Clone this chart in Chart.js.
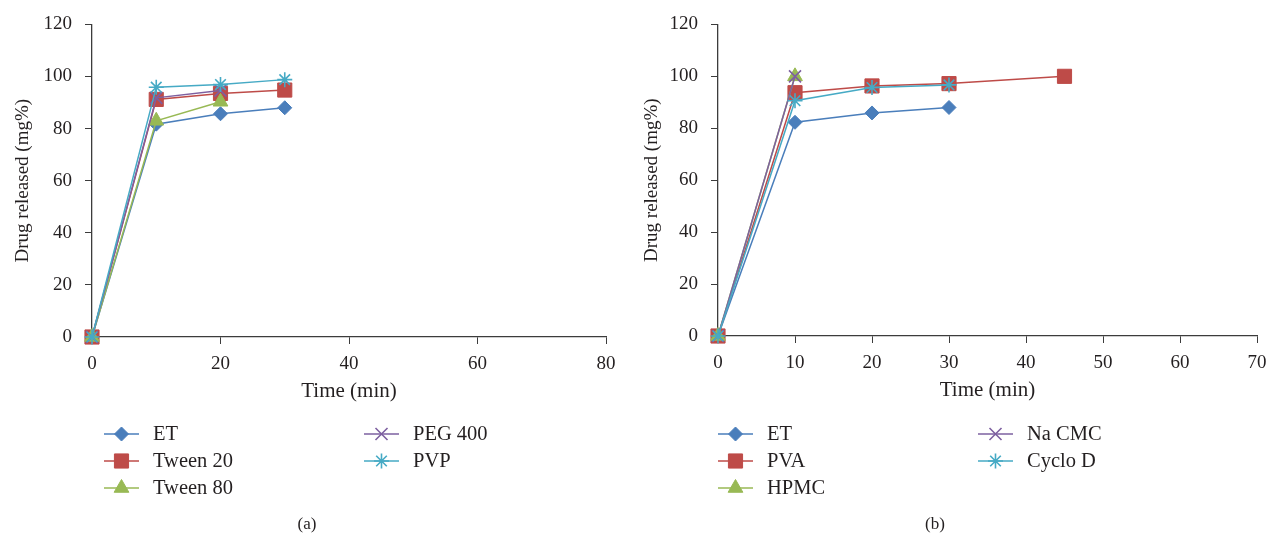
<!DOCTYPE html>
<html lang="en">
<head>
<meta charset="UTF-8">
<title>Drug release</title>
<script src="https://cdn.jsdelivr.net/npm/chart.js"></script>
<style>
  body { margin: 0; background: #fff; }
  .wrap { position: relative; width: 1270px; height: 539px; overflow: hidden; }
  .panel { position: absolute; top: 0; width: 635px; height: 539px; }
  .caption {
    position: absolute; top: 514px; width: 100px; text-align: center;
    font: 17px "Liberation Serif", serif; color: #231f20;
  }
</style>
</head>
<body>
<div class="wrap">
  <div class="panel" style="left:0"><canvas id="chartA" width="635" height="539"></canvas></div>
  <div class="panel" style="left:635px"><canvas id="chartB" width="635" height="539"></canvas></div>
  <div class="caption" style="left:257px">(a)</div>
  <div class="caption" style="left:885px">(b)</div>
</div>

<script>
  // time points (min)
  const timeFull = [0, 10, 20, 30];
  const timeShort = [0, 10, 20];
  const timeFirst = [0, 10];
  const timePVA = [0, 10, 20, 30, 45];

  // panel (a) - drug released (mg%)
  const etA = [0, 81.7, 85.7, 88.0];
  const tween20A = [0, 91.2, 93.5, 94.8];
  const tween80A = [0, 83.0, 90.3];
  const peg400A = [0, 91.8, 94.6];
  const pvpA = [0, 95.9, 96.9, 98.8];

  // panel (b)
  const etB = [0, 82.3, 85.9, 88.0];
  const pvaB = [0, 93.7, 96.3, 97.2, 100];
  const hpmcB = [0, 100];
  const naCmcB = [0, 100];
  const cycloB = [0, 90.6, 95.7, 96.7];

  // ticks
  const yTicks = [0, 20, 40, 60, 80, 100, 120];
  const xTicksA = [0, 20, 40, 60, 80];
  const xTicksB = [0, 10, 20, 30, 40, 50, 60, 70];

  const FONT = '"Liberation Serif", "Times New Roman", serif';
  const INK = '#231f20';
  const AXIS = '#3c3c3c';

  const blue = '#4a7ebb', red = '#be4b48', green = '#98b954', purple = '#7d60a0', cyan = '#46aac5';

  function pts(xs, ys) {
    return xs.map((x, i) => ({ x: x, y: ys[i] }));
  }

  function series(label, xs, ys, color, shape, r, i) {
    return {
      label: label,
      data: pts(xs, ys),
      borderColor: color,
      backgroundColor: color,
      pointBorderColor: color,
      pointBackgroundColor: color,
      borderWidth: 1.5,
      pointBorderWidth: (shape === 'crossRot' || shape === 'star') ? 1.6 : 1,
      pointStyle: shape,
      pointRadius: r,
      pointHoverRadius: r,
      tension: 0,
      clip: false,
      order: -i // later series on top, like the original
    };
  }

  // legend drawn in two columns below the axis
  const twoColLegend = {
    id: 'twoColLegend',
    afterDraw(chart, args, opts) {
      const ctx = chart.ctx;
      chart.data.datasets.forEach((ds, i) => {
        const col = opts.cols[i < 3 ? 0 : 1];
        const y = opts.rows[i < 3 ? i : i - 3];
        ctx.save();
        ctx.strokeStyle = ds.borderColor;
        ctx.lineWidth = ds.borderWidth;
        ctx.beginPath();
        ctx.moveTo(col, y);
        ctx.lineTo(col + 35, y);
        ctx.stroke();
        ctx.fillStyle = ds.pointBackgroundColor;
        ctx.strokeStyle = ds.pointBorderColor;
        ctx.lineWidth = ds.pointBorderWidth;
        Chart.helpers.drawPoint(ctx, {
          pointStyle: ds.pointStyle, radius: ds.pointRadius, rotation: 0, borderWidth: ds.pointBorderWidth
        }, col + 17.5, y);
        ctx.fillStyle = INK;
        ctx.font = '20.5px ' + FONT;
        ctx.textBaseline = 'middle';
        ctx.fillText(ds.label, col + 49, y + 1);
        ctx.restore();
      });
    }
  };

  function makeOptions(xTicks, yAxisWidth, yTitlePad, padRight, padBottom, legend) {
    return {
      responsive: false,
      animation: false,
      layout: { padding: { left: 0, top: 23, right: padRight, bottom: padBottom } },
      plugins: {
        legend: { display: false },
        tooltip: { enabled: false },
        twoColLegend: legend
      },
      scales: {
        x: {
          type: 'linear',
          position: 'bottom',
          min: xTicks[0],
          max: xTicks[xTicks.length - 1],
          ticks: { stepSize: xTicks[1] - xTicks[0], color: INK, font: { family: FONT, size: 19 }, padding: 9 },
          grid: { drawOnChartArea: false, drawTicks: true, tickLength: 7, color: AXIS },
          border: { color: AXIS, width: 1.3 },
          title: { display: true, text: 'Time (min)', color: INK, font: { family: FONT, size: 21 }, padding: { top: 4, bottom: 3 } },
          afterFit(s) {
            s.height = 70;
            s.paddingRight = Math.min(s.paddingRight, 10);
          }
        },
        y: {
          min: yTicks[0],
          max: yTicks[yTicks.length - 1],
          ticks: { stepSize: yTicks[1] - yTicks[0], color: INK, font: { family: FONT, size: 19 }, padding: 13 },
          grid: { drawOnChartArea: false, drawTicks: true, tickLength: 7, color: AXIS },
          border: { color: AXIS, width: 1.3 },
          title: { display: true, text: 'Drug released (mg%)', color: INK, font: { family: FONT, size: 19 }, padding: { top: yTitlePad, bottom: 0 } },
          afterFit(s) { s.width = yAxisWidth; }
        }
      }
    };
  }

  new Chart(document.getElementById('chartA'), {
    type: 'line',
    data: {
      datasets: [
        series('ET', timeFull, etA, blue, 'rectRot', 7, 0),
        series('Tween 20', timeFull, tween20A, red, 'rect', 10, 1),
        series('Tween 80', timeShort, tween80A, green, 'triangle', 8.5, 2),
        series('PEG 400', timeShort, peg400A, purple, 'crossRot', 8.5, 3),
        series('PVP', timeFull, pvpA, cyan, 'star', 7.5, 4)
      ]
    },
    options: makeOptions(xTicksA, 92, 12, 29, 132, { cols: [104, 364], rows: [434, 461, 488] }),
    plugins: [twoColLegend]
  });

  new Chart(document.getElementById('chartB'), {
    type: 'line',
    data: {
      datasets: [
        series('ET', timeFull, etB, blue, 'rectRot', 7, 0),
        series('PVA', timePVA, pvaB, red, 'rect', 10, 1),
        series('HPMC', timeFirst, hpmcB, green, 'triangle', 8.5, 2),
        series('Na CMC', timeFirst, naCmcB, purple, 'crossRot', 8.5, 3),
        series('Cyclo D', timeFull, cycloB, cyan, 'star', 7.5, 4)
      ]
    },
    options: makeOptions(xTicksB, 83, 6, 13, 133, { cols: [83, 343], rows: [434, 461, 488] }),
    plugins: [twoColLegend]
  });
</script>
</body>
</html>
